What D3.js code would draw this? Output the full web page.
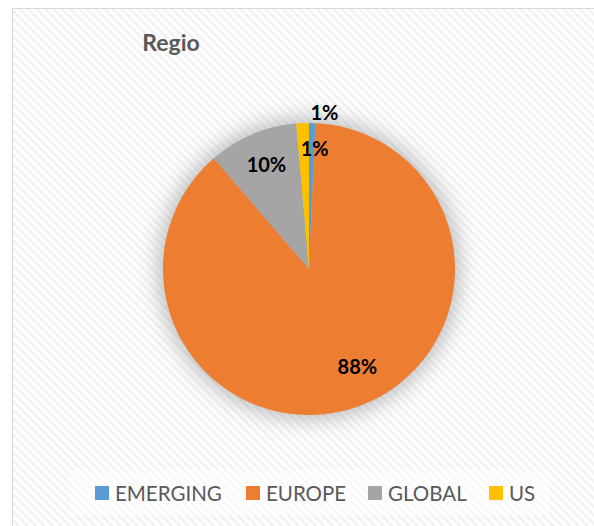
<!DOCTYPE html>
<html><head><meta charset="utf-8">
<script src="https://cdn.jsdelivr.net/npm/d3@7/dist/d3.min.js"></script>
<style>body{margin:0;background:#fff;}svg{display:block;}</style>
</head><body>
<script>
const categories = ["EMERGING", "EUROPE", "GLOBAL", "US"];
const values = [0.7, 88.0, 9.9, 1.4];
const colors = ["#5b9bd5", "#ed7d31", "#a5a5a5", "#ffc000"];
const title = "Regio";

const W = 594, H = 526;
const svg = d3.select("body").append("svg").attr("width", W).attr("height", H);
const defs = svg.append("defs");
const pat = defs.append("pattern").attr("id", "stripes").attr("patternUnits", "userSpaceOnUse")
  .attr("width", 6).attr("height", 6).attr("patternTransform", "rotate(-45)");
pat.append("rect").attr("width", 6).attr("height", 6).attr("fill", "#ffffff");
pat.append("rect").attr("width", 3).attr("height", 6).attr("fill", "#f3f3f3");
const f = defs.append("filter").attr("id", "glow").attr("x", "-30%").attr("y", "-30%").attr("width", "160%").attr("height", "160%");
f.append("feGaussianBlur").attr("stdDeviation", 10);

svg.append("rect").attr("x", 12.5).attr("y", 8.5).attr("width", W + 10).attr("height", H + 10)
  .attr("fill", "url(#stripes)").attr("stroke", "#d9d9d9").attr("stroke-width", 1);

const cx = 309, cy = 269, r = 146;
svg.append("circle").attr("cx", cx).attr("cy", cy).attr("r", r + 5)
  .attr("fill", "#808080").attr("opacity", 0.5).attr("filter", "url(#glow)");

const data = categories.map((c, i) => ({ name: c, value: values[i], color: colors[i] }));
const pie = d3.pie().value(d => d.value).sort(null);
const arcs = pie(data);
const arc = d3.arc().innerRadius(0).outerRadius(r);
const g = svg.append("g").attr("transform", `translate(${cx},${cy})`);
g.selectAll("path").data(arcs).join("path").attr("d", arc).attr("fill", d => d.data.color);

const total = d3.sum(values);
const fmt = v => Math.round(v / total * 100) + "%";
const labelR = [1.07, 0.7, 0.75, 0.82];
const labelShift = [[12, -1], [15, 0], [0, -4], [11, -1]];
g.selectAll("text.lbl").data(arcs).join("text").attr("class", "lbl")
  .attr("transform", (d, i) => {
    const p = d3.arc().innerRadius(r * labelR[i]).outerRadius(r * labelR[i]).centroid(d);
    return `translate(${p[0] + labelShift[i][0]},${p[1] + labelShift[i][1]})`;
  })
  .attr("text-anchor", "middle").attr("dominant-baseline", "central")
  .attr("font-family", "Lato, 'Open Sans', sans-serif").attr("font-weight", "bold")
  .attr("font-size", 20).attr("fill", "#000")
  .text(d => fmt(d.data.value));

svg.append("text").attr("x", 171).attr("y", 51).attr("text-anchor", "middle")
  .attr("font-family", "Lato, 'Open Sans', sans-serif").attr("font-weight", "bold")
  .attr("font-size", 23).attr("fill", "#595959").text(title);

// legend
svg.append("rect").attr("x", 70).attr("y", 470).attr("width", 480).attr("height", 45)
  .attr("fill", "#ffffff").attr("opacity", 0.6);
const legX = [95, 246, 368, 489];
const lg = svg.append("g");
const items = lg.selectAll("g").data(data).join("g").attr("transform", (d, i) => `translate(${legX[i]},486)`);
items.append("rect").attr("width", 14).attr("height", 14).attr("fill", d => d.color);
items.append("text").attr("x", 20).attr("y", 7).attr("dominant-baseline", "central")
  .attr("font-family", "Lato, 'Open Sans', sans-serif").attr("font-size", 20.5).attr("fill", "#595959")
  .text(d => d.name);
</script>
</body></html>
